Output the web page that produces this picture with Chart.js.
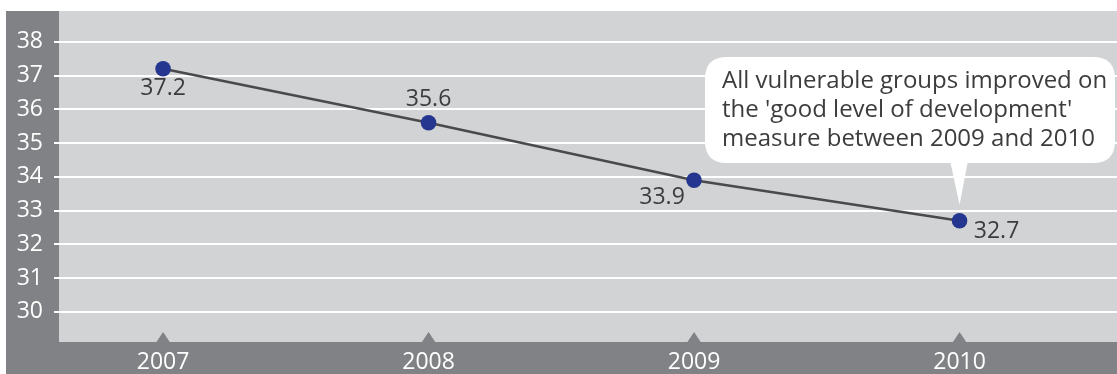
<!DOCTYPE html>
<html>
<head>
<meta charset="utf-8">
<script src="https://cdn.jsdelivr.net/npm/chart.js@4.4.1/dist/chart.umd.min.js"></script>
<style>
  html, body { margin: 0; padding: 0; background: #ffffff; overflow: hidden; }
  #chart { display: block; }
</style>
</head>
<body>
<canvas id="chart" width="1117" height="374"></canvas>
<script>
// Yearly values of the measure
const years = [2007, 2008, 2009, 2010];
const values = [37.2, 35.6, 33.9, 32.7];
const valueLabels = ['37.2', '35.6', '33.9', '32.7'];
const yTickValues = [30, 31, 32, 33, 34, 35, 36, 37, 38];
const calloutLines = [
  'All vulnerable groups improved on',
  "the 'good level of development'",
  'measure between 2009 and 2010'
];

// Where each value label sits relative to its point (pixels)
const labelOffsets = [[0, 20], [0, -23], [-32, 17], [37, 11]];

const FONT = '"Open Sans", "Noto Sans", sans-serif';
const DARK = '#808285';
const LIGHT = '#d1d3d4';
const TEXT = '#3c3c3e';

const framePlugin = {
  id: 'frame',
  beforeDraw(chart) {
    const { ctx, chartArea: a } = chart;
    ctx.save();
    ctx.fillStyle = DARK;
    ctx.fillRect(6, a.top, chart.width - 6, chart.height - a.top);
    ctx.fillStyle = LIGHT;
    ctx.fillRect(a.left, a.top, chart.width - a.left, a.bottom - a.top);
    ctx.restore();
  },
  afterDatasetsDraw(chart) {
    const { ctx, chartArea: a, scales } = chart;
    const xs = scales.x, ys = scales.y;
    ctx.save();
    // small pointers on the category axis
    ctx.fillStyle = DARK;
    years.forEach(yr => {
      const px = xs.getPixelForValue(yr);
      ctx.beginPath();
      ctx.moveTo(px - 7, a.bottom + 0.5);
      ctx.lineTo(px, a.bottom - 10);
      ctx.lineTo(px + 7, a.bottom + 0.5);
      ctx.closePath();
      ctx.fill();
    });

    // value labels
    ctx.fillStyle = TEXT;
    ctx.font = '23px ' + FONT;
    ctx.textAlign = 'center';
    ctx.textBaseline = 'middle';
    years.forEach((yr, i) => {
      const px = xs.getPixelForValue(yr);
      const py = ys.getPixelForValue(values[i]);
      ctx.fillText(valueLabels[i], px + labelOffsets[i][0], py + labelOffsets[i][1]);
    });

    // callout bubble pointing at the last point
    const tipX = xs.getPixelForValue(years[years.length - 1]);
    const tipY = ys.getPixelForValue(values[values.length - 1]) - 16;
    const left = 705, top = 57, right = chart.width - 2, bottom = 163, r = 22;
    ctx.fillStyle = '#ffffff';
    ctx.beginPath();
    ctx.moveTo(left + r, top);
    ctx.lineTo(right - r, top);
    ctx.quadraticCurveTo(right, top, right, top + r);
    ctx.lineTo(right, bottom - r);
    ctx.quadraticCurveTo(right, bottom, right - r, bottom);
    ctx.lineTo(tipX + 8, bottom);
    ctx.lineTo(tipX, tipY);
    ctx.lineTo(tipX - 9, bottom);
    ctx.lineTo(left + r, bottom);
    ctx.quadraticCurveTo(left, bottom, left, bottom - r);
    ctx.lineTo(left, top + r);
    ctx.quadraticCurveTo(left, top, left + r, top);
    ctx.closePath();
    ctx.fill();

    ctx.fillStyle = TEXT;
    ctx.font = '24px ' + FONT;
    ctx.textAlign = 'left';
    ctx.textBaseline = 'middle';
    calloutLines.forEach((line, i) => {
      ctx.fillText(line, 722, 81 + i * 29);
    });
    ctx.restore();
  }
};

new Chart(document.getElementById('chart'), {
  type: 'line',
  data: {
    datasets: [{
      data: years.map((yr, i) => ({ x: yr, y: values[i] })),
      borderColor: '#4a4a4c',
      borderWidth: 2.5,
      pointRadius: 7.8,
      pointHoverRadius: 7.8,
      pointBackgroundColor: '#24368f',
      pointBorderWidth: 0,
      tension: 0
    }]
  },
  options: {
    responsive: false,
    animation: false,
    events: [],
    layout: { autoPadding: false, padding: { top: 11, left: 0, right: 0, bottom: 0 } },
    plugins: { legend: { display: false }, tooltip: { enabled: false } },
    scales: {
      x: {
        type: 'linear',
        min: 2006.608,
        max: 2010.593,
        grid: { display: false, drawTicks: false },
        border: { display: false },
        afterBuildTicks: s => { s.ticks = years.map(v => ({ value: v })); },
        afterFit: s => {
          s.height = 32;
          s.paddingLeft = 0;
          s.paddingRight = 0;
        },
        ticks: {
          color: '#ffffff',
          font: { family: FONT, size: 23 },
          padding: 7,
          maxRotation: 0,
          autoSkip: false,
          callback: v => String(v)
        }
      },
      y: {
        min: 29.11,
        max: 38.91,
        grid: { color: '#ffffff', lineWidth: 2, tickLength: 5, drawTicks: true },
        border: { display: false },
        afterBuildTicks: s => { s.ticks = yTickValues.map(v => ({ value: v })); },
        afterFit: s => {
          s.width = 59;
          s.paddingTop = 0;
          s.paddingBottom = 0;
        },
        ticks: {
          color: '#ffffff',
          font: { family: FONT, size: 23 },
          padding: 11,
          autoSkip: false,
          callback: v => String(v)
        }
      }
    }
  },
  plugins: [framePlugin]
});
</script>
</body>
</html>
